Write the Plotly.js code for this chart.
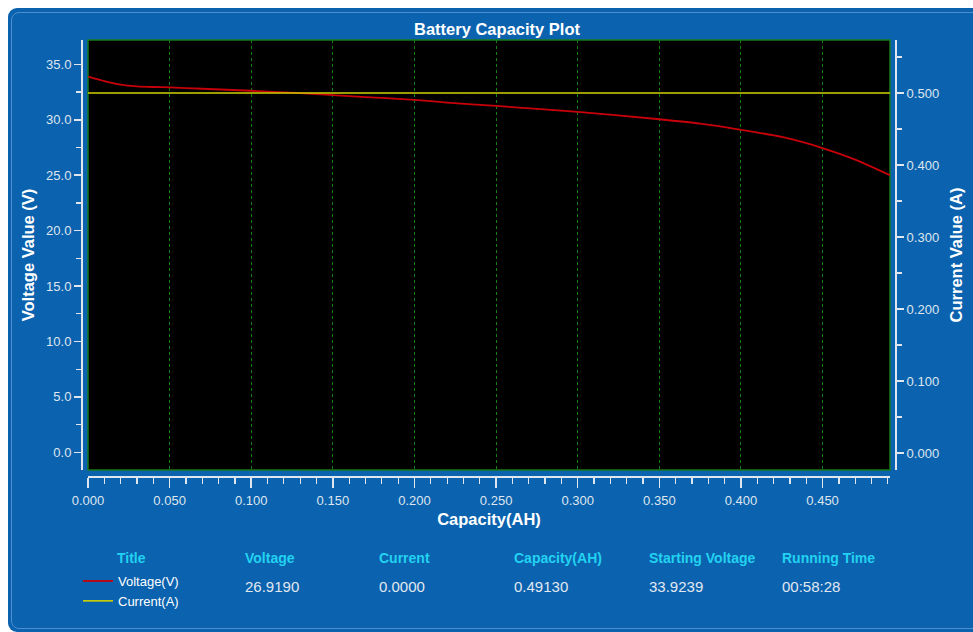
<!DOCTYPE html>
<html>
<head>
<meta charset="utf-8">
<script src="https://cdn.plot.ly/plotly-3.0.1.min.js"></script>
<style>
  html, body { margin: 0; padding: 0; background: #ffffff; width: 973px; height: 632px; overflow: hidden; }
  #panel { position: absolute; left: 8px; top: 8px; width: 965px; height: 624px; background: #0b62ae; border-radius: 9px 0 0 9px; }
  #inner { position: absolute; left: 3px; top: 4px; right: -10px; bottom: 3px; border: 1px solid #4d8fce; border-radius: 8px; }
  #chart { position: absolute; left: 8px; top: 8px; width: 965px; height: 624px; }
</style>
</head>
<body>
<div id="panel"><div id="inner"></div></div>
<div id="chart"></div>
<script>
// ---- data ----
const capacityAH = [0, 0.01, 0.02, 0.03, 0.04, 0.05, 0.07, 0.10, 0.12, 0.135, 0.15, 0.17, 0.20, 0.22, 0.25, 0.30, 0.35, 0.375, 0.40, 0.425, 0.45, 0.47, 0.4913];
const voltageV   = [33.9, 33.5, 33.18, 33.02, 32.96, 32.93, 32.8, 32.62, 32.47, 32.37, 32.22, 32.05, 31.8, 31.55, 31.25, 30.72, 30.05, 29.65, 29.1, 28.45, 27.45, 26.4, 25.0];
const currentA   = [0.5, 0.5, 0.5, 0.5, 0.5, 0.5, 0.5, 0.5, 0.5, 0.5, 0.5, 0.5, 0.5, 0.5, 0.5, 0.5, 0.5, 0.5, 0.5, 0.5, 0.5, 0.5, 0.5];
const seriesNames = ["Voltage(V)", "Current(A)"];
const tableHeaders = ["Voltage", "Current", "Capacity(AH)", "Starting Voltage", "Running Time"];
const tableValues  = ["26.9190", "0.0000", "0.49130", "33.9239", "00:58:28"];

// ---- geometry helpers (page pixels -> paper coords) ----
const PX0 = 82, PX1 = 896, PY0 = 40, PY1 = 477;
const px = X => (X - PX0) / (PX1 - PX0);
const py = Y => (PY1 - Y) / (PY1 - PY0);

const FONT = '"Liberation Sans", Arial, sans-serif';
const tickFont = {family: FONT, size: 13, color: '#dfe6ef'};
const titleFont = {family: FONT, size: 16.5, color: '#ffffff', weight: 'bold'};
const axisLine = '#dfe6ef';

const traces = [
  {x: capacityAH, y: currentA, name: seriesNames[1], yaxis: 'y2', mode: 'lines',
   line: {color: '#d2d200', width: 1.6}, legendrank: 2},
  {x: capacityAH, y: voltageV, name: seriesNames[0], yaxis: 'y', mode: 'lines',
   line: {color: '#c8000a', width: 1.8, shape: 'spline', smoothing: 0.5}, legendrank: 1}
];

const annotations = [];
const hx = [243, 377, 512, 647, 780];
const headFont = {family: FONT, size: 14, color: '#22d2f2', weight: 'bold'};
annotations.push({xref: 'paper', yref: 'paper', x: px(131), y: py(558), xanchor: 'center', yanchor: 'middle',
  text: 'Title', showarrow: false, font: headFont});
tableHeaders.forEach((h, i) => {
  annotations.push({xref: 'paper', yref: 'paper', x: px(hx[i]), y: py(558), xanchor: 'left', yanchor: 'middle',
    text: h, showarrow: false, font: headFont});
  annotations.push({xref: 'paper', yref: 'paper', x: px(hx[i]), y: py(586), xanchor: 'left', yanchor: 'middle',
    text: tableValues[i], showarrow: false, font: {family: FONT, size: 15, color: '#e2e8f0'}});
});

const layout = {
  width: 965, height: 624,
  margin: {l: PX0 - 8, r: 973 - PX1, t: PY0 - 8, b: 632 - PY1, pad: 0},
  paper_bgcolor: 'rgba(0,0,0,0)',
  plot_bgcolor: 'rgba(0,0,0,0)',
  title: {text: 'Battery Capacity Plot', font: titleFont, xref: 'container', yref: 'container',
          x: (497 - 8) / 965, xanchor: 'center', y: 1 - (29 - 8) / 624, yanchor: 'middle'},
  xaxis: {
    domain: [px(88), px(890)], range: [0, 0.4913], anchor: 'free', position: 0,
    dtick: 0.05, tick0: 0, tickformat: '.3f', ticks: 'outside', ticklen: 10, tickwidth: 1.5, tickcolor: axisLine,
    minor: {dtick: 0.01, ticks: 'outside', ticklen: 6, tickcolor: axisLine, tickwidth: 1.2, showgrid: false},
    showline: true, linecolor: axisLine, linewidth: 2,
    showgrid: true, gridcolor: '#168016', griddash: '3px,3px', gridwidth: 1,
    zeroline: false, tickfont: tickFont, ticklabelstandoff: 1,
    title: {text: 'Capacity(AH)', font: titleFont, standoff: 6}
  },
  yaxis: {
    domain: [py(470), 1], range: [-1.6, 37.2], anchor: 'free', position: 0,
    dtick: 5, tick0: 0, tickformat: '.1f', ticks: 'outside', ticklen: 7, tickwidth: 1.5, tickcolor: axisLine,
    minor: {dtick: 2.5, ticks: 'outside', ticklen: 5, tickcolor: axisLine, tickwidth: 1.2, showgrid: false},
    showline: true, linecolor: axisLine, linewidth: 2,
    showgrid: false, zeroline: false, tickfont: tickFont,
    title: {text: 'Voltage Value (V)', font: titleFont, standoff: 6}
  },
  yaxis2: {
    domain: [py(470), 1], range: [-0.0236, 0.5736], overlaying: 'y', side: 'right', anchor: 'free', position: 1,
    dtick: 0.1, tick0: 0, tickformat: '.3f', ticks: 'outside', ticklen: 7, tickwidth: 1.5, tickcolor: axisLine,
    minor: {dtick: 0.05, ticks: 'outside', ticklen: 5, tickcolor: axisLine, tickwidth: 1.2, showgrid: false},
    showline: true, linecolor: axisLine, linewidth: 2,
    showgrid: false, zeroline: false, tickfont: tickFont,
    title: {text: 'Current Value (A)', font: titleFont, standoff: 11}
  },
  shapes: [
    {type: 'rect', xref: 'x domain', yref: 'y domain', x0: 0, x1: 1, y0: 0, y1: 1,
     fillcolor: '#000000', line: {color: '#1a7a1a', width: 1.5}, layer: 'below'}
  ],
  showlegend: true,
  legend: {x: px(78), y: py(566), xanchor: 'left', yanchor: 'top', orientation: 'v',
           bgcolor: 'rgba(0,0,0,0)', borderwidth: 0, itemwidth: 30, tracegroupgap: 0,
           font: {family: FONT, size: 13, color: '#ffffff'}, traceorder: 'normal'},
  annotations: annotations
};

Plotly.newPlot('chart', traces, layout, {displayModeBar: false, staticPlot: true});
</script>
</body>
</html>
